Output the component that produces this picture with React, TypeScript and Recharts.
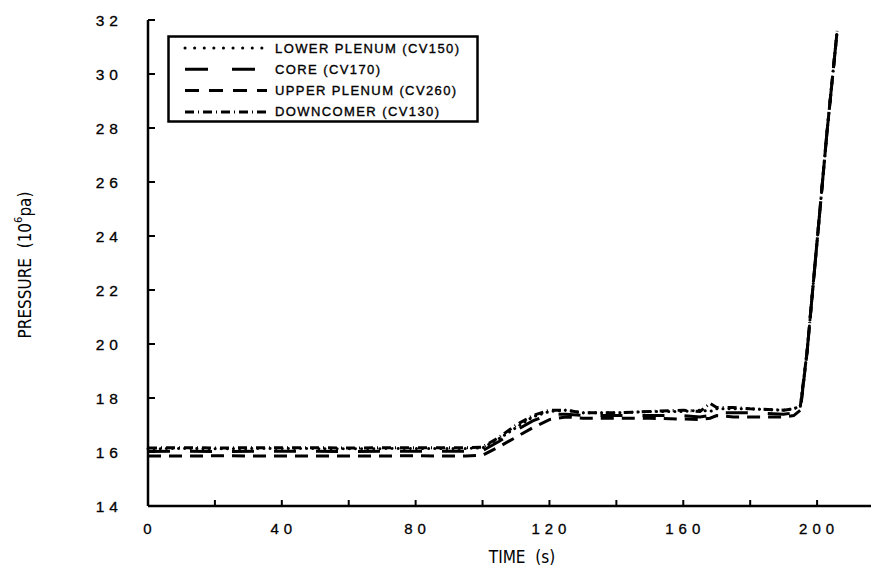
import React from "react";
import { LineChart, Line, XAxis, YAxis } from "recharts";

const TIME = [0, 10, 20, 40, 60, 80, 95, 100, 105, 110, 115, 120, 125, 130, 140, 150, 160, 165, 168, 170, 175, 180, 190, 193, 195, 197, 200, 203, 206];
const LOWER_PLENUM = [16.12, 16.13, 16.12, 16.13, 16.12, 16.13, 16.13, 16.15, 16.5, 16.9, 17.3, 17.5, 17.55, 17.45, 17.45, 17.5, 17.5, 17.55, 17.5, 17.6, 17.6, 17.6, 17.55, 17.6, 17.7, 19.7, 23.8, 27.9, 31.6];
const CORE = [16.02, 16.03, 16.02, 16.03, 16.02, 16.03, 16.03, 16.05, 16.4, 16.8, 17.15, 17.4, 17.4, 17.35, 17.35, 17.35, 17.35, 17.3, 17.35, 17.45, 17.45, 17.45, 17.4, 17.45, 17.6, 19.7, 23.8, 27.9, 31.6];
const UPPER_PLENUM = [15.85, 15.85, 15.86, 15.85, 15.85, 15.86, 15.85, 15.88, 16.2, 16.55, 16.9, 17.2, 17.3, 17.25, 17.25, 17.25, 17.22, 17.2, 17.25, 17.35, 17.3, 17.3, 17.3, 17.35, 17.55, 19.7, 23.8, 27.9, 31.6];
const DOWNCOMER = [16.15, 16.16, 16.15, 16.16, 16.15, 16.16, 16.16, 16.18, 16.55, 17.0, 17.35, 17.55, 17.55, 17.45, 17.45, 17.5, 17.55, 17.5, 17.8, 17.65, 17.65, 17.6, 17.55, 17.6, 17.7, 19.7, 23.8, 27.9, 31.6];

const X_TICKS = [0, 20, 40, 60, 80, 100, 120, 140, 160, 180, 200, 220];
const X_LABELS = [0, 40, 80, 120, 160, 200];
const Y_TICKS = [14, 16, 18, 20, 22, 24, 26, 28, 30, 32];

const SERIES = [
  { key: "lower", name: "LOWER PLENUM (CV150)", dash: "0.1 6", legendDash: "0.1 9.5", values: LOWER_PLENUM },
  { key: "core", name: "CORE (CV170)", dash: "22 20", legendDash: "23 24", values: CORE },
  { key: "upper", name: "UPPER PLENUM (CV260)", dash: "13 8", legendDash: "14 10", values: UPPER_PLENUM },
  { key: "down", name: "DOWNCOMER (CV130)", dash: "9 4 1 4", legendDash: "9 4 1 4", values: DOWNCOMER },
];

const data = TIME.map((t, i) => {
  const row: any = { t };
  SERIES.forEach((s) => (row[s.key] = s.values[i]));
  return row;
});

const FONT = "'Liberation Sans', 'DejaVu Sans', sans-serif";
const NARROW = "'Liberation Sans Narrow', 'DejaVu Sans Condensed', 'Liberation Sans', sans-serif";

const XTick = (props: any) => {
  const { x, y, payload } = props;
  if (!X_LABELS.includes(payload.value)) return <g />;
  return (
    <text x={x + 2} y={y} textAnchor="middle" dominantBaseline="central" fontSize={15} letterSpacing={5} fontFamily={FONT} fill="#000" stroke="#000" strokeWidth={0.3}>
      {String(payload.value)}
    </text>
  );
};

const YTick = (props: any) => {
  const { x, y, payload } = props;
  return (
    <text x={x} y={y} textAnchor="end" dominantBaseline="central" fontSize={15.5} letterSpacing={5} fontFamily={FONT} fill="#000" stroke="#000" strokeWidth={0.3}>
      {String(payload.value)}
    </text>
  );
};

const Empty = () => <g />;

const YLabel = (props: any) => {
  const { viewBox } = props;
  const cx = 17;
  const cy = viewBox.y + viewBox.height / 2 + 2;
  return (
    <text x={cx} y={cy} transform={`rotate(-90 ${cx} ${cy})`} textAnchor="middle" dominantBaseline="central" fontSize={17} fontFamily={NARROW} fill="#000" style={{ whiteSpace: "pre" }}>
      PRESSURE  (10<tspan dy={-7} fontSize={11}>6</tspan><tspan dy={7}>pa)</tspan>
    </text>
  );
};

const XLabel = (props: any) => {
  const { viewBox } = props;
  const cx = 514;
  const cy = viewBox.y + 51;
  return (
    <text x={cx} y={cy} textAnchor="middle" dominantBaseline="central" fontSize={17} fontFamily={NARROW} fill="#000" style={{ whiteSpace: "pre" }}>
      TIME  (s)
    </text>
  );
};

const LegendBox = () => (
  <svg width={312} height={88} style={{ display: "block" }}>
    <rect x={1.5} y={1.5} width={309} height={85} fill="#fff" stroke="#000" strokeWidth={2.5} />
    {SERIES.map((s, i) => {
      const yy = 13 + i * 21.3;
      return (
        <g key={s.key}>
          <line x1={18} x2={100} y1={yy} y2={yy} stroke="#000" strokeWidth={3} strokeDasharray={s.legendDash} strokeLinecap={s.key === "lower" ? "round" : "butt"} />
          <text x={108} y={yy} dominantBaseline="central" fontSize={13} letterSpacing={1.4} fontFamily={FONT} fill="#000" stroke="#000" strokeWidth={0.35}>
            {s.name}
          </text>
        </g>
      );
    })}
  </svg>
);

export default function App() {
  return (
    <div style={{ position: "relative", width: 871, height: 567, overflow: "hidden", background: "#fff" }}>
      <LineChart width={900} height={567} data={data} margin={{ top: 12, right: 24, left: 0, bottom: 9 }}>
        <XAxis
          xAxisId="b"
          dataKey="t"
          type="number"
          domain={[0, 220]}
          ticks={X_TICKS}
          interval={0}
          height={60}
          stroke="#000"
          strokeWidth={2.5}
          tickSize={-6}
          tickMargin={28}
          tick={<XTick />}
          tickLine={{ stroke: "#000", strokeWidth: 2 }}
          label={<XLabel />}
        />
        <XAxis
          xAxisId="t"
          dataKey="t"
          type="number"
          orientation="top"
          domain={[0, 220]}
          ticks={X_TICKS}
          interval={0}
          height={0}
          stroke="#000"
          strokeWidth={2.5}
          tickSize={-6}
          tick={<Empty />}
          tickLine={{ stroke: "#000", strokeWidth: 2 }}
        />
        <YAxis
          yAxisId="l"
          type="number"
          domain={[14, 32]}
          ticks={Y_TICKS}
          interval={0}
          width={140}
          stroke="#000"
          strokeWidth={2.5}
          tickSize={-7}
          tickMargin={32}
          tick={<YTick />}
          tickLine={{ stroke: "#000", strokeWidth: 2 }}
          label={<YLabel />}
        />
        <YAxis
          yAxisId="r"
          orientation="right"
          type="number"
          domain={[14, 32]}
          ticks={Y_TICKS}
          interval={0}
          width={0}
          stroke="#000"
          strokeWidth={2.5}
          tickSize={-9}
          tick={<Empty />}
          tickLine={{ stroke: "#000", strokeWidth: 2 }}
        />
        {SERIES.map((s) => (
          <Line
            key={s.key}
            xAxisId="b"
            yAxisId="l"
            dataKey={s.key}
            name={s.name}
            type="linear"
            stroke="#000"
            strokeWidth={3}
            strokeDasharray={s.dash}
            strokeLinecap={s.key === "lower" ? "round" : "butt"}
            dot={false}
            activeDot={false}
            isAnimationActive={false}
          />
        ))}
      </LineChart>
      <div style={{ position: "absolute", left: 159, top: 27 }}>
        <LegendBox />
      </div>
    </div>
  );
}
